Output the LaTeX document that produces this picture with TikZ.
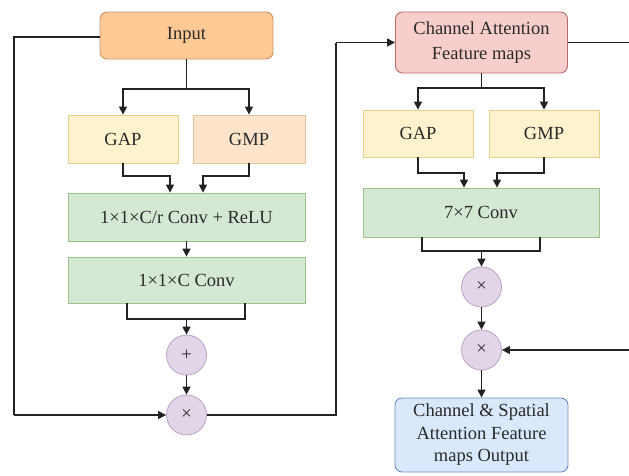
\documentclass[tikz,border=0pt]{standalone}
\usepackage{fontspec}
\setmainfont{Liberation Serif}
\usetikzlibrary{arrows.meta}
\definecolor{inF}{HTML}{FFC995}\definecolor{inD}{HTML}{C99462}
\definecolor{gapF}{HTML}{FFF2CC}\definecolor{gapD}{HTML}{E3CF8E}
\definecolor{gmpF}{HTML}{FFE4CC}\definecolor{gmpD}{HTML}{E6C29A}
\definecolor{grF}{HTML}{D5E8D4}\definecolor{grD}{HTML}{9CC48A}
\definecolor{pkF}{HTML}{F8CECC}\definecolor{pkD}{HTML}{B86A66}
\definecolor{blF}{HTML}{DAE8FC}\definecolor{blD}{HTML}{6C8EBF}
\definecolor{ciF}{HTML}{E1D5E7}\definecolor{ciD}{HTML}{B9A3C6}
\definecolor{ln}{HTML}{222222}
\definecolor{tx}{HTML}{2A2A2A}
\begin{document}
\begin{tikzpicture}[x=1pt,y=-1pt,
  every node/.style={font=\fontsize{18.5}{22.5}\selectfont, text=tx, align=center, inner sep=0pt},
  box/.style={draw, line width=0.8pt, minimum width=#1, minimum height=47pt},
  rbox/.style={draw, line width=0.9pt, rounded corners=7pt},
  circ/.style={circle, draw=ciD, fill=ciF, line width=0.8pt, minimum size=40pt},
  conn/.style={draw=ln, line width=1.5pt},
  arr/.style={conn, -{Triangle[length=8pt,width=8pt]}}]
\useasboundingbox (0,0) rectangle (629,475);
\clip (0,0) rectangle (629,475);
% left column
\node[rbox, draw=inD, fill=inF, minimum width=173pt, minimum height=47pt] (input) at (186.5,35.5) {Input};
\node[box=110pt, draw=gapD, fill=gapF, minimum height=48pt] (gap1) at (123,139) {GAP};
\node[box=112pt, draw=gmpD, fill=gmpF, minimum height=48pt] (gmp1) at (249,139) {GMP};
\node[box=237pt, draw=grD, fill=grF, minimum height=48pt] (conv1) at (186.5,217) {1×1×C/r Conv + ReLU};
\node[box=237pt, draw=grD, fill=grF, minimum height=46pt] (conv2) at (186.5,280) {1×1×C Conv};
\node[circ] (plus) at (186.5,355) {+};
\node[circ] (mul1) at (186.5,415) {×};
% right column
\node[rbox, draw=pkD, fill=pkF, minimum width=172pt, minimum height=61pt, font=\fontsize{18.5}{25}\selectfont] (ca) at (481.5,42.5) {Channel Attention\\Feature maps};
\node[box=110pt, draw=gapD, fill=gapF] (gap2) at (418,133.5) {GAP};
\node[box=110pt, draw=gapD, fill=gapF] (gmp2) at (544,133.5) {GMP};
\node[box=236pt, draw=grD, fill=grF, minimum height=49pt] (conv3) at (481,212.5) {7×7 Conv};
\node[circ] (mul2) at (481.5,287) {×};
\node[circ] (mul3) at (481.5,350) {×};
\node[rbox, draw=blD, fill=blF, minimum width=173pt, minimum height=74pt] (out) at (481.5,435) {Channel \& Spatial\\Attention Feature\\maps Output};
% coordinates
\coordinate (lc1) at (14,37);
\coordinate (lc2) at (14,415);
\coordinate (mc1) at (336,415);
\coordinate (mc2) at (336,42.5);
\coordinate (rc1) at (633,42.5);
\coordinate (rc2) at (633,350);
% left connectors
\draw[conn] (input.west |- lc1) -- (lc1) -- (lc2);
\draw[arr] (lc2) -- (mul1.west);
\draw[conn] (input.south) -- (186.5,89);
\draw[arr] (186.5,89) -| (gap1.north);
\draw[arr] (186.5,89) -| (gmp1.north);
\draw[arr] (gap1.south) |- (170,176) -- ([xshift=-16.5pt]conv1.north);
\draw[arr] (gmp1.south) |- (203,176) -- ([xshift=16.5pt]conv1.north);
\draw[arr] (conv1.south) -- (conv2.north);
\draw[conn] ([xshift=-59.5pt]conv2.south) |- (245,319) -- ([xshift=58.5pt]conv2.south);
\draw[arr] (186.5,319) -- (plus.north);
\draw[arr] (plus.south) -- (mul1.north);
\draw[conn] (mul1.east) -- (mc1) -- (mc2);
\draw[arr] (mc2) -- (ca.west);
% right connectors
\draw[conn] (ca.east) -- (rc1) -- (rc2);
\draw[arr] (rc2) -- (mul3.east);
\draw[conn] (ca.south) -- (481.5,88);
\draw[arr] (481.5,88) -| (gap2.north);
\draw[arr] (481.5,88) -| (gmp2.north);
\draw[arr] (gap2.south) |- (464,173) -- ([xshift=-17pt]conv3.north);
\draw[arr] (gmp2.south) |- (497,173) -- ([xshift=16pt]conv3.north);
\draw[conn] ([xshift=-59pt]conv3.south) |- (540,251) -- ([xshift=59pt]conv3.south);
\draw[arr] (481.5,251) -- (mul2.north);
\draw[arr] (mul2.south) -- (mul3.north);
\draw[arr] (mul3.south) -- (out.north);
\end{tikzpicture}
\end{document}
